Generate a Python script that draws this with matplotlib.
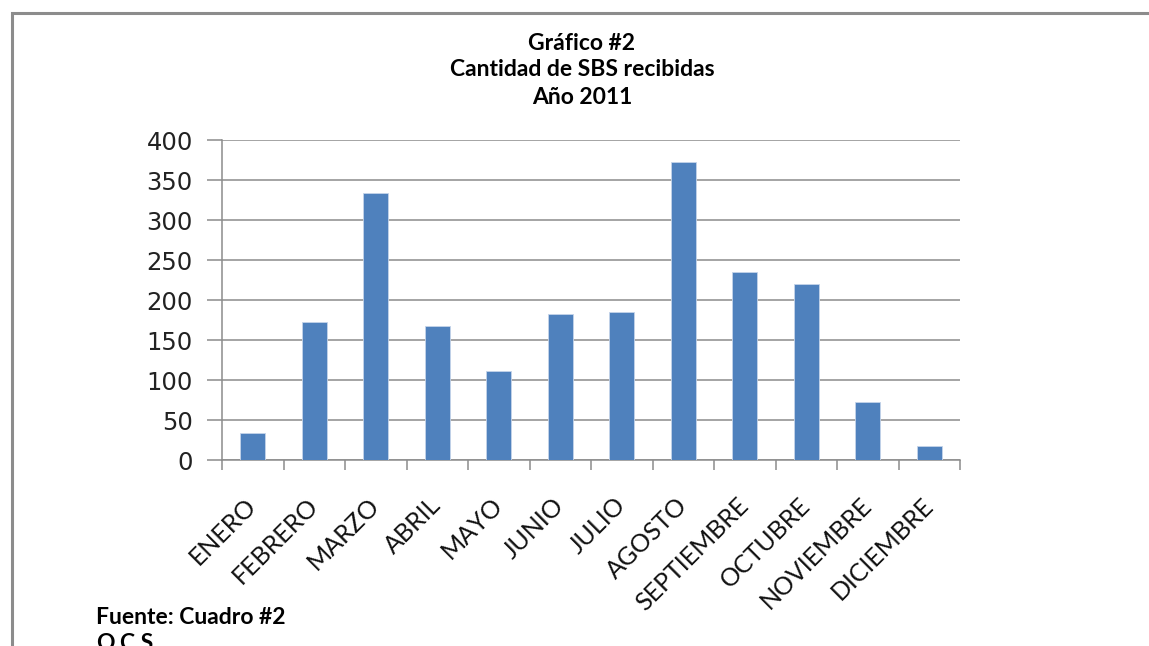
import matplotlib
matplotlib.use("Agg")
import matplotlib.pyplot as plt
from matplotlib.patches import Rectangle

meses = ["ENERO", "FEBRERO", "MARZO", "ABRIL", "MAYO", "JUNIO", "JULIO",
         "AGOSTO", "SEPTIEMBRE", "OCTUBRE", "NOVIEMBRE", "DICIEMBRE"]
cantidad = [34, 172, 334, 167, 111, 182, 185, 372, 235, 220, 73, 17]
yticks = [0, 50, 100, 150, 200, 250, 300, 350, 400]
titulo = ["Gráfico #2", "Cantidad de SBS recibidas", "Año 2011"]
fuente = "Fuente: Cuadro #2"
ocs = "O.C.S."

W, H = 1149, 646
fig = plt.figure(figsize=(W / 100, H / 100), dpi=100)
fig.patch.set_facecolor("white")

# outer frame (extends beyond right and bottom edges)
fig.patches.append(Rectangle((12 / W, -0.1), 1.2, 1 - 13 / H + 0.1,
                             transform=fig.transFigure, fill=False,
                             edgecolor="#8c8c8c", linewidth=2.2))

ax = fig.add_axes([222 / W, 1 - 460 / H, (960 - 222) / W, (460 - 140) / H])
x = list(range(len(meses)))
ax.bar(x, cantidad, width=0.4, color="#4F81BD", edgecolor="#c5d4ea",
       linewidth=0.6, zorder=3)
ax.set_xlim(-0.5, len(meses) - 0.5)
ax.set_ylim(0, 400)
ax.set_yticks(yticks)
ax.set_yticklabels([str(v) for v in yticks], fontsize=17.5,
                   family="DejaVu Sans", color="#222222")
ax.yaxis.grid(True, color="#8c8c8c", linewidth=1.1, zorder=0)
ax.set_axisbelow(True)
ax.tick_params(axis="y", length=11, width=1.1, color="#8c8c8c", pad=10)

# category ticks at boundaries, labels at centers
ax.set_xticks([i - 0.5 for i in range(len(meses) + 1)])
ax.set_xticklabels([])
ax.tick_params(axis="x", which="major", length=7, width=1.1, color="#8c8c8c")
ax.set_xticks(x, minor=True)
ax.set_xticklabels(meses, minor=True, rotation=45, ha="right", va="center",
                   rotation_mode="anchor", fontsize=18, family="Lato",
                   color="#111111")
ax.tick_params(axis="x", which="minor", length=0, pad=30)

for s in ["top", "right"]:
    ax.spines[s].set_visible(False)
for s in ["left", "bottom"]:
    ax.spines[s].set_color("#8c8c8c")
    ax.spines[s].set_linewidth(1.1)

for line, ypix in zip(titulo, [43, 70, 97]):
    fig.text(582 / W, 1 - ypix / H, line, ha="center", va="center",
             fontsize=16.5, family="Lato", fontweight="bold")
fig.text(96 / W, 1 - 618 / H, fuente, ha="left", va="center",
         fontsize=16.5, family="Lato", fontweight="bold")
fig.text(96 / W, 1 - 643 / H, ocs, ha="left", va="center",
         fontsize=16.5, family="Lato", fontweight="bold")

fig.savefig("out.png", dpi=100, facecolor="white")
